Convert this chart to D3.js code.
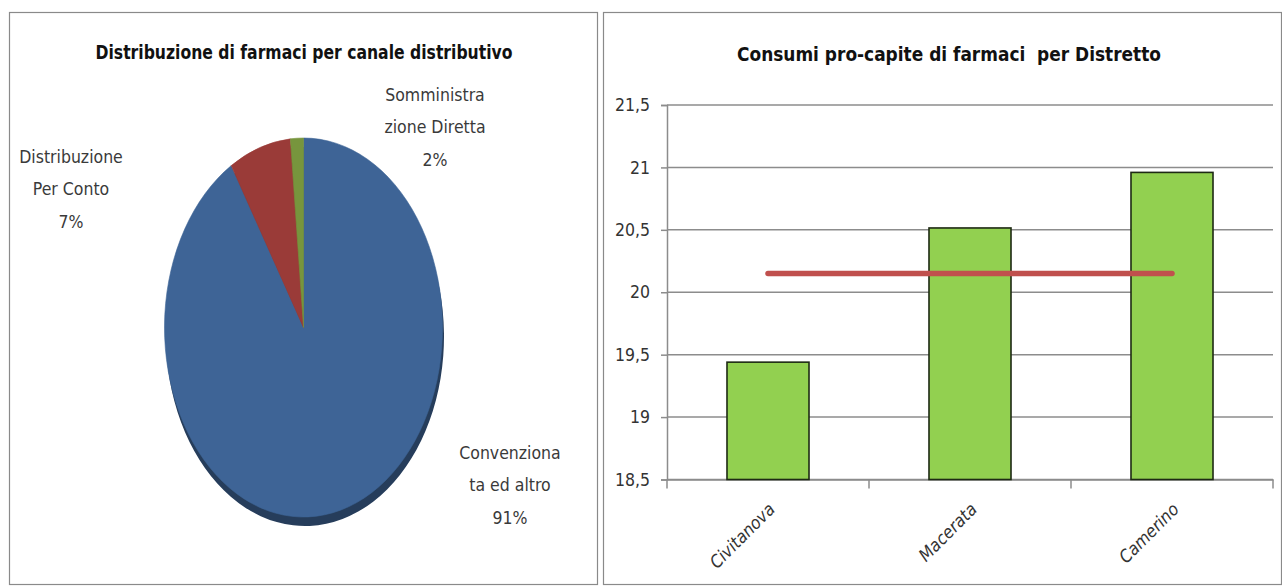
<!DOCTYPE html>
<html><head><meta charset="utf-8">
<script src="https://cdn.jsdelivr.net/npm/d3@7"></script>
<style>
html,body{margin:0;padding:0;background:#fff;}
svg{display:block;}
text{font-family:"Liberation Sans Narrow","DejaVu Sans Condensed","Open Sans",sans-serif;}
</style></head>
<body>
<svg id="c" width="1282" height="587"></svg>
<script>
// ---- data ----
const pieLabels = [["Convenziona","ta ed altro"],["Distribuzione","Per Conto"],["Somministra","zione Diretta"]];
const pieValues = [91.3, 7.2, 1.5];
const pieColors = ["#3e6496", "#9a3b38", "#77953d"];

const districts = ["Civitanova", "Macerata", "Camerino"];
const consumi = [19.44, 20.515, 20.96];
const media = [20.15, 20.15, 20.15];
const yTicks = [18.5, 19, 19.5, 20, 20.5, 21, 21.5];

const svg = d3.select("#c");
const fmt = d3.formatLocale({decimal: ",", thousands: ".", grouping: [3], currency: ["", "€"]}).format("~g");

// panel frames
svg.append("rect").attr("x", 9.5).attr("y", 12.5).attr("width", 588).attr("height", 572)
  .attr("fill", "#fff").attr("stroke", "#8a8a8a").attr("stroke-width", 1.2);
svg.append("rect").attr("x", 603.5).attr("y", 12.5).attr("width", 678).attr("height", 572)
  .attr("fill", "#fff").attr("stroke", "#8a8a8a").attr("stroke-width", 1.2);

// ---- left: pie ----
svg.append("text").attr("x", 304).attr("y", 59).attr("text-anchor", "middle")
  .attr("font-size", 19).attr("font-weight", "bold").attr("fill", "#111")
  .attr("textLength", 417).attr("lengthAdjust", "spacingAndGlyphs")
  .text("Distribuzione di farmaci per canale distributivo");

const cx = 303.5, cy = 327.5, rx = 139, ry = 189.5;
const pie = d3.pie().sort(null).value(d => d)(pieValues);
const arc = d3.arc().innerRadius(0).outerRadius(rx);

// side (depth) of the 3D pie
svg.append("g").attr("transform", `translate(${cx + 1.5},${cy + 9}) scale(1,${ry / rx})`)
  .selectAll("path").data(pie).join("path")
  .attr("d", arc).attr("fill", (d, i) => d3.color(pieColors[i]).darker(1.4));

svg.append("g").attr("transform", `translate(${cx},${cy}) scale(1,${ry / rx})`)
  .selectAll("path").data(pie).join("path")
  .attr("d", arc).attr("fill", (d, i) => pieColors[i])
  .attr("stroke", (d, i) => pieColors[i]).attr("stroke-width", 0.5);

const labelPos = [[510, 453], [71, 157], [435, 95]];
pie.forEach((d, i) => {
  const t = svg.append("text").attr("text-anchor", "middle").attr("font-size", 17.5).attr("fill", "#3a3a3a");
  const lines = pieLabels[i].concat([Math.round(d.value) + "%"]);
  lines.forEach((l, j) => {
    t.append("tspan").attr("x", labelPos[i][0]).attr("y", labelPos[i][1] + j * 32.3 + 6).text(l);
  });
});

// ---- right: bar chart ----
svg.append("text").attr("x", 949).attr("y", 61).attr("text-anchor", "middle")
  .attr("font-size", 19).attr("font-weight", "bold").attr("fill", "#111")
  .attr("textLength", 424).attr("lengthAdjust", "spacingAndGlyphs")
  .style("white-space", "pre")
  .text("Consumi pro-capite di farmaci  per Distretto");

const x0 = 667, x1 = 1273;
const y = d3.scaleLinear().domain([18.5, 21.5]).range([479.5, 105]);
const xs = d3.scaleBand().domain(districts).range([x0, x1]).paddingInner(0.594).paddingOuter(0.297);
const xc = d3.scalePoint().domain(districts).range([x0, x1]).padding(0.5);

// gridlines
svg.append("g").selectAll("line").data(yTicks).join("line")
  .attr("x1", x0).attr("x2", x1).attr("y1", d => y(d)).attr("y2", d => y(d))
  .attr("stroke", "#8c8c8c").attr("stroke-width", 1.5);

// y axis
const ya = svg.append("g").attr("transform", `translate(${x0},0)`)
  .call(d3.axisLeft(y).tickValues(yTicks).tickFormat(fmt).tickSize(6).tickPadding(11));
ya.select(".domain").attr("stroke", "#8c8c8c").attr("stroke-width", 1.5);
ya.selectAll(".tick line").attr("stroke", "#8c8c8c").attr("stroke-width", 1.5);
ya.selectAll(".tick text").attr("font-size", 17.5).attr("fill", "#333")
  .style("font-family", "'Liberation Sans Narrow','DejaVu Sans Condensed',sans-serif");

// x axis
const xb = d3.scaleBand().domain(districts).range([x0, x1]);
const xa = svg.append("g").attr("transform", `translate(0,${y(18.5)})`)
  .call(d3.axisBottom(xb).tickSize(0).tickFormat(""));
xa.select(".domain").attr("stroke", "#8c8c8c").attr("stroke-width", 1.5);
xa.selectAll(".tick").remove();
const bounds = [x0].concat(districts.map(d => xb(d) + xb.bandwidth()));
xa.selectAll("line.sep").data(bounds).join("line").attr("class", "sep")
  .attr("x1", d => d).attr("x2", d => d).attr("y1", 0).attr("y2", 9)
  .attr("stroke", "#8c8c8c").attr("stroke-width", 1.5);

// bars
svg.append("g").selectAll("rect").data(districts).join("rect")
  .attr("x", d => xs(d)).attr("width", xs.bandwidth())
  .attr("y", (d, i) => y(consumi[i])).attr("height", (d, i) => y(18.5) - y(consumi[i]))
  .attr("fill", "#92d050").attr("stroke", "#1e2a14").attr("stroke-width", 1.6);

// average line
svg.append("path").datum(districts)
  .attr("d", d3.line().x(d => xc(d)).y((d, i) => y(media[i])))
  .attr("fill", "none").attr("stroke", "#c0504d").attr("stroke-width", 5.5).attr("stroke-linecap", "round");

// x labels
svg.append("g").selectAll("text").data(districts).join("text")
  .attr("transform", d => `translate(${xc(d) + 8},${y(18.5) + 31}) rotate(-45)`)
  .attr("text-anchor", "end").attr("font-size", 17.5).attr("font-style", "italic").attr("fill", "#333")
  .text(d => d);
</script>
</body></html>
